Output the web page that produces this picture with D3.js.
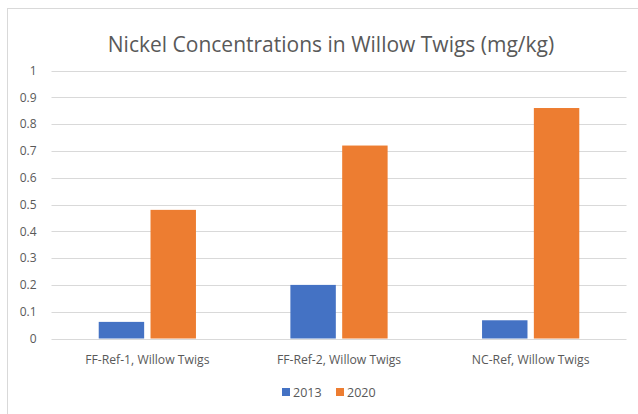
<!DOCTYPE html>
<html>
<head>
<meta charset="utf-8">
<script src="https://cdn.jsdelivr.net/npm/d3@7"></script>
<style>
  html, body { margin: 0; padding: 0; background: #fff; }
  svg { display: block; }
  text { font-family: "Open Sans", "Liberation Sans", sans-serif; fill: #595959; }
</style>
</head>
<body>
<svg id="chart" width="638" height="414"></svg>
<script>
// Nickel in willow twigs, by site and sampling year
const categories = ["FF-Ref-1, Willow Twigs", "FF-Ref-2, Willow Twigs", "NC-Ref, Willow Twigs"];
const years = ["2013", "2020"];
const values2013 = [0.062, 0.2, 0.068];
const values2020 = [0.48, 0.72, 0.86];
const yTicks = [0, 0.1, 0.2, 0.3, 0.4, 0.5, 0.6, 0.7, 0.8, 0.9, 1];
const colors = ["#4472C4", "#ED7D31"];

const series = [values2013, values2020];
const rows = categories.map((c, i) => ({ cat: c, vals: series.map(s => s[i]) }));

const svg = d3.select("#chart");

// Chart frame
svg.append("rect")
  .attr("x", 7.5).attr("y", 8.5)
  .attr("width", 640).attr("height", 420)
  .attr("fill", "#fff").attr("stroke", "#d9d9d9").attr("stroke-width", 1);

const plot = { left: 51.5, right: 626.5, top: 70.5, bottom: 338.5 };

const x = d3.scaleBand().domain(categories).range([plot.left, plot.right]).paddingInner(0).paddingOuter(0);
const y = d3.scaleLinear().domain([0, 1]).range([plot.bottom, plot.top]);

// Grouped bar geometry within each category band
const barW = x.bandwidth() * 0.2225;
const barGap = barW * 0.28;
const xs = d3.scaleBand().domain(years).range([0, barW * 2 + barGap]).paddingInner(barGap / (barW * 2 + barGap));

// Horizontal gridlines
svg.append("g")
  .selectAll("line")
  .data(yTicks)
  .join("line")
  .attr("x1", plot.left).attr("x2", plot.right)
  .attr("y1", d => Math.round(y(d)) + 0.5).attr("y2", d => Math.round(y(d)) + 0.5)
  .attr("stroke", "#d9d9d9").attr("stroke-width", 1);

// Y axis labels
const yAxis = d3.axisLeft(y).tickValues(yTicks).tickSize(0).tickPadding(0).tickFormat(d3.format("~g"));
const yG = svg.append("g").attr("transform", `translate(${plot.left - 15},0)`).call(yAxis);
yG.select(".domain").remove();
yG.selectAll("text").attr("font-size", 12).style("font-family", '"Open Sans", sans-serif').attr("fill", "#595959");

// Bars
const groups = svg.append("g")
  .selectAll("g")
  .data(rows)
  .join("g")
  .attr("transform", d => `translate(${x(d.cat) + (x.bandwidth() - xs.range()[1]) / 2},0)`);

groups.selectAll("rect")
  .data(d => d.vals.map((v, j) => ({ year: years[j], v, j })))
  .join("rect")
  .attr("x", d => xs(d.year))
  .attr("width", xs.bandwidth())
  .attr("y", d => y(d.v))
  .attr("height", d => y(0) - y(d.v))
  .attr("fill", d => colors[d.j]);

// Category axis labels
const xAxis = d3.axisBottom(x).tickSize(0).tickPadding(0);
const xG = svg.append("g").attr("transform", `translate(0,${plot.bottom + 17})`).call(xAxis);
xG.select(".domain").remove();
xG.selectAll("text").attr("font-size", 12.2).attr("dy", "0.71em").style("font-family", '"Open Sans", sans-serif').attr("fill", "#595959");

// Title
svg.append("text")
  .attr("x", 331).attr("y", 52)
  .attr("text-anchor", "middle")
  .attr("font-size", 21)
  .text("Nickel Concentrations in Willow Twigs (mg/kg)");

// Legend
const legend = svg.append("g").attr("transform", "translate(282,388)");
const items = legend.selectAll("g")
  .data(years)
  .join("g")
  .attr("transform", (d, i) => `translate(${i * 54},0)`);
items.append("rect").attr("width", 8).attr("height", 8).attr("fill", (d, i) => colors[i]);
items.append("text").attr("x", 11).attr("y", 8.5).attr("font-size", 12.5).text(d => d);
</script>
</body>
</html>
